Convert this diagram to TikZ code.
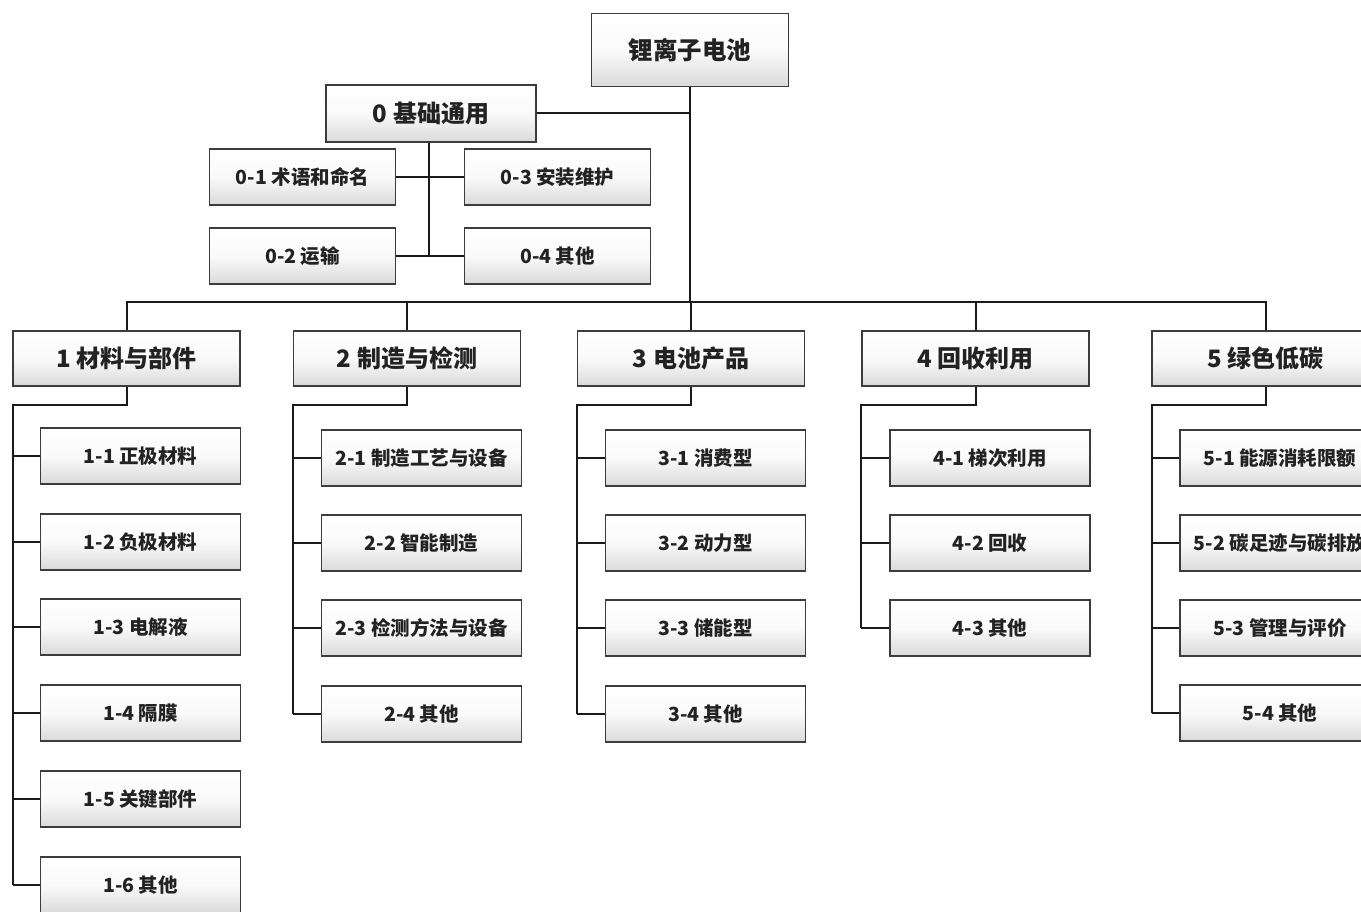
\documentclass[tikz,border=0pt]{standalone}
\usepackage{fontspec}
\setmainfont{Noto Sans CJK SC}
\begin{document}
\begin{tikzpicture}[x=1pt,y=-1pt,
  box/.style={draw=boxgray, line width=1.6pt, top color=white, bottom color=shadegray, middle color=white!96!gray, shading angle=0, inner sep=0pt, text=textc, font=\bfseries},
  top/.style={box, minimum width=197pt, minimum height=73pt, font=\bfseries\fontsize{24.5}{27}\selectfont},
  lone/.style={box, minimum width=227pt, minimum height=55pt, font=\bfseries\fontsize{24}{27}\selectfont},
  kid/.style={box, minimum width=200pt, minimum height=56pt, font=\bfseries\fontsize{19.5}{22}\selectfont},
  zkid/.style={box, minimum width=186pt, minimum height=56pt, font=\bfseries\fontsize{19.5}{22}\selectfont},
  wire/.style={draw=linec, line width=2pt}
]
\definecolor{boxgray}{HTML}{3C3C3C}
\definecolor{shadegray}{HTML}{DADADA}
\definecolor{textc}{HTML}{222222}
\definecolor{linec}{HTML}{1A1A1A}
\useasboundingbox (0,0) rectangle (1361,912);
\clip (0,0) rectangle (1361,912);
\fill[white] (0,0) rectangle (1361,912);

\coordinate (bus) at (0,302);

% root and group 0
\node[top] (root) at (690,50) {锂离子电池};
\node[box, minimum width=210pt, minimum height=57pt, font=\bfseries\fontsize{24}{27}\selectfont] (n0) at (431,113.5) {0 基础通用};
\node[zkid] (n01) at (302.5,177) {0-1 术语和命名};
\node[zkid] (n03) at (557.5,177) {0-3 安装维护};
\node[zkid] (n02) at (302.5,256) {0-2 运输};
\node[zkid] (n04) at (557.5,256) {0-4 其他};

% level 1
\node[lone] (n1) at (126.5,358.5) {1 材料与部件};
\node[lone] (n2) at (407,358.5) {2 制造与检测};
\node[lone] (n3) at (691,358.5) {3 电池产品};
\node[lone] (n4) at (975.5,358.5) {4 回收利用};
\node[lone] (n5) at (1265.5,358.5) {5 绿色低碳};

% group 1
\node[kid] (c11) at (140.5,456) {1-1 正极材料};
\node[kid] (c12) at (140.5,542) {1-2 负极材料};
\node[kid] (c13) at (140.5,627) {1-3 电解液};
\node[kid] (c14) at (140.5,713) {1-4 隔膜};
\node[kid] (c15) at (140.5,799) {1-5 关键部件};
\node[kid] (c16) at (140.5,885) {1-6 其他};
% group 2
\node[kid] (c21) at (421.5,458) {2-1 制造工艺与设备};
\node[kid] (c22) at (421.5,543) {2-2 智能制造};
\node[kid] (c23) at (421.5,628) {2-3 检测方法与设备};
\node[kid] (c24) at (421.5,714) {2-4 其他};
% group 3
\node[kid] (c31) at (705.5,458) {3-1 消费型};
\node[kid] (c32) at (705.5,543) {3-2 动力型};
\node[kid] (c33) at (705.5,628) {3-3 储能型};
\node[kid] (c34) at (705.5,714) {3-4 其他};
% group 4
\node[kid] (c41) at (990,458) {4-1 梯次利用};
\node[kid] (c42) at (990,543) {4-2 回收};
\node[kid] (c43) at (990,628) {4-3 其他};
% group 5
\node[kid] (c51) at (1280,458) {5-1 能源消耗限额};
\node[kid] (c52) at (1280,543) {5-2 碳足迹与碳排放};
\node[kid] (c53) at (1280,628) {5-3 管理与评价};
\node[kid] (c54) at (1280,713) {5-4 其他};

% connectors: root
\draw[wire] (root.south) -- (root.south |- bus);
\draw[wire] (n0.east) -- (n0.east -| root.south);
\draw[wire] (n1.north) -- (n1.north |- bus) -- (n5.north |- bus) -- (n5.north);
\foreach \n in {n2,n3,n4} \draw[wire] (\n.north) -- (\n.north |- bus);

% group 0
\draw[wire] ([xshift=-2pt]n0.south) -- ([xshift=-2pt]n0.south |- n02.east);
\draw[wire] (n01.east) -- (n03.west);
\draw[wire] (n02.east) -- (n04.west);

% groups 1-5
\foreach \p/\bx/\last/\kids in {n1/13/c16/{c11,c12,c13,c14,c15,c16},
                                n2/293/c24/{c21,c22,c23,c24},
                                n3/577/c34/{c31,c32,c33,c34},
                                n4/861/c43/{c41,c42,c43},
                                n5/1152/c54/{c51,c52,c53,c54}} {
  \coordinate (b\p) at (\bx,405);
  \draw[wire] (\p.south) -- (\p.south |- b\p) -- (b\p) -- (b\p |- \last.west);
  \foreach \k in \kids \draw[wire] (b\p |- \k.west) -- (\k.west);
}
\end{tikzpicture}
\end{document}
